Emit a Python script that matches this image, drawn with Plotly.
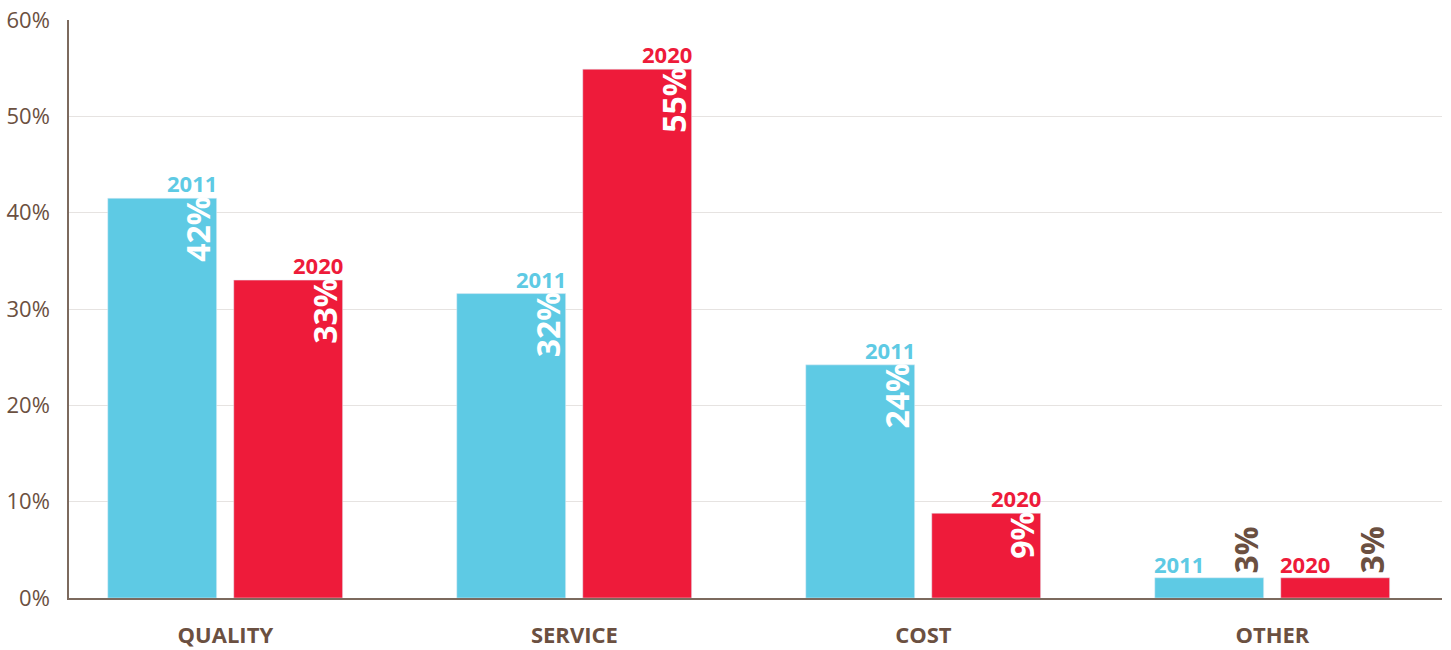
import plotly.graph_objects as go

categories = ["QUALITY", "SERVICE", "COST", "OTHER"]
values_2011 = [41.5, 31.6, 24.2, 2.1]
values_2020 = [33.0, 54.9, 8.8, 2.1]
labels_2011 = ["42%", "32%", "24%", "3%"]
labels_2020 = ["33%", "55%", "9%", "3%"]
series_names = ["2011", "2020"]
y_ticks = [0, 10, 20, 30, 40, 50, 60]

CYAN = "#5ECAE4"
RED = "#EE1B3A"
BROWN = "#6B5041"
FONT = "Open Sans"

BAR_W = 0.312
OFFSETS = [-0.337, 0.024]

xs = list(range(len(categories)))
fig = go.Figure()
series = [(values_2011, labels_2011, CYAN), (values_2020, labels_2020, RED)]
for i, (vals, labs, col) in enumerate(series):
    fig.add_trace(go.Bar(
        x=xs, y=vals, name=series_names[i], marker_color=col,
        width=BAR_W, offset=OFFSETS[i], hoverinfo="skip",
    ))

annotations = []
for i, (vals, labs, col) in enumerate(series):
    for j, v in enumerate(vals):
        left = j + OFFSETS[i]
        right = left + BAR_W
        small = v < 5
        if not small:
            annotations.append(dict(
                x=right, y=v, xref="x", yref="y", text=f"<b>{series_names[i]}</b>",
                showarrow=False, xanchor="right", yanchor="bottom",
                font=dict(family=FONT, size=22, color=col), xshift=2, yshift=-2,
            ))
            annotations.append(dict(
                x=right, y=v, xref="x", yref="y", text=f"<b>{labs[j]}</b>",
                showarrow=False, xanchor="right", yanchor="top", textangle=-90,
                font=dict(family=FONT, size=32, color="white"), xshift=5, yshift=3,
            ))
        else:
            annotations.append(dict(
                x=left, y=v, xref="x", yref="y", text=f"<b>{series_names[i]}</b>",
                showarrow=False, xanchor="left", yanchor="bottom",
                font=dict(family=FONT, size=22, color=col), xshift=-3, yshift=-3,
            ))
            annotations.append(dict(
                x=right, y=v, xref="x", yref="y", text=f"<b>{labs[j]}</b>",
                showarrow=False, xanchor="right", yanchor="bottom", textangle=-90,
                font=dict(family=FONT, size=32, color=BROWN), xshift=5, yshift=2,
            ))

fig.update_layout(
    width=1451, height=650,
    margin=dict(l=69, r=9, t=20, b=52),
    plot_bgcolor="white", paper_bgcolor="white",
    showlegend=False,
    annotations=annotations,
    xaxis=dict(
        range=[-0.448, 3.486], tickvals=xs, ticktext=[f"<b>{c}</b>" for c in categories],
        tickfont=dict(family=FONT, size=22, color=BROWN),
        showgrid=False, zeroline=False, showline=True, linecolor="#7C6A5E", linewidth=1.5,
        ticks="outside", ticklen=17, tickcolor="rgba(0,0,0,0)", automargin=False,
    ),
    yaxis=dict(
        range=[0, 60], tickvals=y_ticks, ticktext=[f"{t}%" for t in y_ticks],
        tickfont=dict(family=FONT, size=22, color=BROWN),
        showgrid=True, gridcolor="#E6E3E1", gridwidth=1, zeroline=False,
        showline=True, linecolor="#7C6A5E", linewidth=1.5,
        ticks="outside", ticklen=13, tickcolor="rgba(0,0,0,0)", automargin=False,
    ),
)

fig.write_html(
    "out.html",
    config={"displayModeBar": False},
    post_script="document.body.style.margin='0';document.body.style.overflow='hidden';",
)
